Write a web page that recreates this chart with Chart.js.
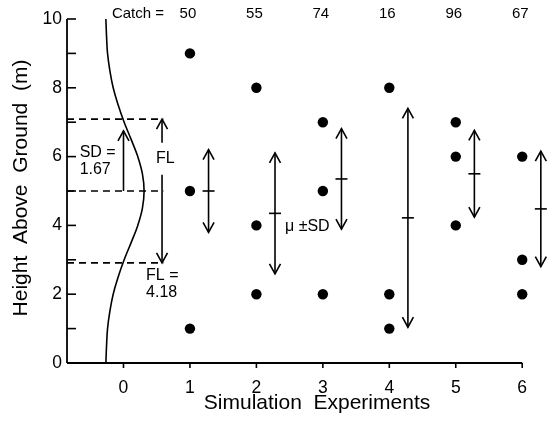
<!DOCTYPE html>
<html>
<head>
<meta charset="utf-8">
<script src="https://cdn.jsdelivr.net/npm/chart.js@4/dist/chart.umd.min.js"></script>
<style>
  html, body { margin: 0; padding: 0; background: #fff; }
  canvas { display: block; }
</style>
</head>
<body>
<canvas id="chart" width="554" height="429"></canvas>
<script>
// --- DATA ---
const experiments = [1, 2, 3, 4, 5, 6];
const catchCounts = [50, 55, 74, 16, 96, 67];
const trapHeights = [[9, 5, 1], [8, 4, 2], [7, 5, 2], [8, 2, 1], [7, 6, 4], [6, 3, 2]];
const meanHeights = [5.0, 4.35, 5.35, 4.22, 5.5, 4.48];
const sdHeights = [1.2, 1.76, 1.46, 3.18, 1.26, 1.68];

// flight profile drawn at experiment 0
const profileHeights = [0, 0.5, 1, 1.5, 2, 2.5, 3, 3.5, 4, 4.5, 5, 5.5, 6, 6.5, 7, 7.5, 8, 8.5, 9, 9.5, 10];
const profileWidth = [-0.265, -0.255, -0.24, -0.205, -0.155, -0.08, 0.01, 0.115, 0.215, 0.285, 0.31,
                      0.285, 0.215, 0.115, 0.01, -0.08, -0.155, -0.205, -0.24, -0.255, -0.265];
const profileMean = 5.0;
const profileSD = 1.67;
const sdArrowTop = 6.75;
const flightLayer = 4.18;

const xTicks = [0, 1, 2, 3, 4, 5, 6];
const yTicks = [0, 2, 4, 6, 8, 10];
const yMinorTicks = [1, 3, 5, 7, 9];

// --- CONFIG ---
const INK = '#000';
const FONT = '"Liberation Sans", Arial, Helvetica, sans-serif';
const X_MIN = -0.85;
const X_MAX = 6.4;
const GUIDE_END = 0.6;     // right end of the dashed guides
const FL_X = 0.58;         // FL arrow
const ARROW_SHIFT = 0.28;  // mean +- SD arrows sit right of the points

Chart.defaults.font.family = FONT;
Chart.defaults.color = INK;

const guideLevels = [profileMean + flightLayer / 2, profileMean, profileMean - flightLayer / 2];

const pointData = [];
experiments.forEach((e, i) => {
    trapHeights[i].forEach(h => pointData.push({ x: e, y: h }));
});

const datasets = [
    {
        data: pointData,
        pointRadius: 5.2,
        pointBackgroundColor: INK,
        pointBorderWidth: 0,
        showLine: false
    },
    {
        data: profileHeights.map((h, i) => ({ x: profileWidth[i], y: h })),
        showLine: true,
        tension: 0.4,
        borderColor: INK,
        borderWidth: 1.6,
        pointRadius: 0
    }
];
guideLevels.forEach(v => {
    datasets.push({
        data: [{ x: X_MIN, y: v }, { x: GUIDE_END, y: v }],
        showLine: true,
        borderColor: INK,
        borderWidth: 1.6,
        borderDash: [7, 5],
        pointRadius: 0
    });
});

function seg(ctx, x1, y1, x2, y2) {
    ctx.beginPath();
    ctx.moveTo(x1, y1);
    ctx.lineTo(x2, y2);
    ctx.stroke();
}

// open V head; dir = 1 points up, -1 points down
function head(ctx, x, y, dir) {
    ctx.beginPath();
    ctx.moveTo(x - 5.5, y + dir * 10);
    ctx.lineTo(x, y);
    ctx.lineTo(x + 5.5, y + dir * 10);
    ctx.stroke();
}

const overlay = {
    id: 'overlay',
    afterDatasetsDraw(chart) {
        const ctx = chart.ctx;
        const xs = chart.scales.x, ys = chart.scales.y;
        const X = v => xs.getPixelForValue(v);
        const Y = v => ys.getPixelForValue(v);

        ctx.save();
        ctx.strokeStyle = INK;
        ctx.fillStyle = INK;

        // axes
        ctx.lineWidth = 1.8;
        seg(ctx, xs.left, Y(0), X(6), Y(0));
        seg(ctx, xs.left, Y(0), xs.left, Y(10));
        ctx.lineWidth = 1.6;
        yTicks.concat(yMinorTicks).forEach(v => seg(ctx, xs.left, Y(v), xs.left + 9, Y(v)));
        xTicks.forEach(v => seg(ctx, X(v), Y(0), X(v), Y(0) + 5));

        // mean +- SD arrows
        experiments.forEach((e, i) => {
            const x = X(e + ARROW_SHIFT);
            const top = Y(meanHeights[i] + sdHeights[i]);
            const bot = Y(meanHeights[i] - sdHeights[i]);
            seg(ctx, x, top, x, bot);
            head(ctx, x, top, 1);
            head(ctx, x, bot, -1);
            seg(ctx, x - 6, Y(meanHeights[i]), x + 6, Y(meanHeights[i]));
        });

        // SD arrow
        seg(ctx, X(0), Y(profileMean), X(0), Y(sdArrowTop));
        head(ctx, X(0), Y(sdArrowTop), 1);

        // FL arrow, broken by its label
        const flTop = Y(guideLevels[0]), flBot = Y(guideLevels[2]);
        seg(ctx, X(FL_X), flTop, X(FL_X), Y(6.4));
        head(ctx, X(FL_X), flTop, 1);
        seg(ctx, X(FL_X), Y(5.47), X(FL_X), flBot);
        head(ctx, X(FL_X), flBot, -1);

        // catch counts
        ctx.font = '15px ' + FONT;
        ctx.textBaseline = 'alphabetic';
        ctx.textAlign = 'right';
        ctx.fillText('Catch =', X(0.61), 18);
        ctx.textAlign = 'center';
        experiments.forEach((e, i) => ctx.fillText(String(catchCounts[i]), X(e) - 2, 18));

        // annotations
        ctx.font = '16px ' + FONT;
        ctx.textAlign = 'left';
        ctx.fillText('SD =', X(-0.66), Y(6.0));
        ctx.fillText(profileSD.toFixed(2), X(-0.66), Y(5.5));
        ctx.fillText('FL', X(0.49), Y(5.8));
        ctx.fillText('FL =', X(0.34), Y(2.4));
        ctx.fillText(flightLayer.toFixed(2), X(0.34), Y(1.93));
        ctx.fillText('\u03bc \u00b1SD', X(2.43), Y(3.825));

        // axis titles
        ctx.font = '21px ' + FONT;
        ctx.textAlign = 'center';
        ctx.fillText('Simulation  Experiments', 317, 409);
        ctx.translate(26.5, 188);
        ctx.rotate(-Math.PI / 2);
        ctx.fillText('Height  Above  Ground  (m)', 0, 0);

        ctx.restore();
    }
};

new Chart(document.getElementById('chart'), {
    type: 'scatter',
    data: { datasets: datasets },
    plugins: [overlay],
    options: {
        responsive: false,
        animation: false,
        layout: { padding: { top: 19, right: 1, left: 0, bottom: 0 } },
        plugins: { legend: { display: false }, tooltip: { enabled: false } },
        scales: {
            x: {
                type: 'linear',
                min: X_MIN,
                max: X_MAX,
                grid: { display: false, drawTicks: false },
                border: { display: false },
                ticks: { padding: 15, font: { size: 17.5 }, color: INK, autoSkip: false, maxRotation: 0 },
                afterBuildTicks: s => { s.ticks = xTicks.map(v => ({ value: v })); },
                afterFit: s => { s.height = 66; }
            },
            y: {
                type: 'linear',
                min: 0,
                max: 10,
                grid: { display: false, drawTicks: false },
                border: { display: false },
                ticks: { padding: 5, font: { size: 17.5 }, color: INK, autoSkip: false },
                afterBuildTicks: s => { s.ticks = yTicks.map(v => ({ value: v })); },
                afterFit: s => { s.width = 67; }
            }
        }
    }
});
</script>
</body>
</html>
